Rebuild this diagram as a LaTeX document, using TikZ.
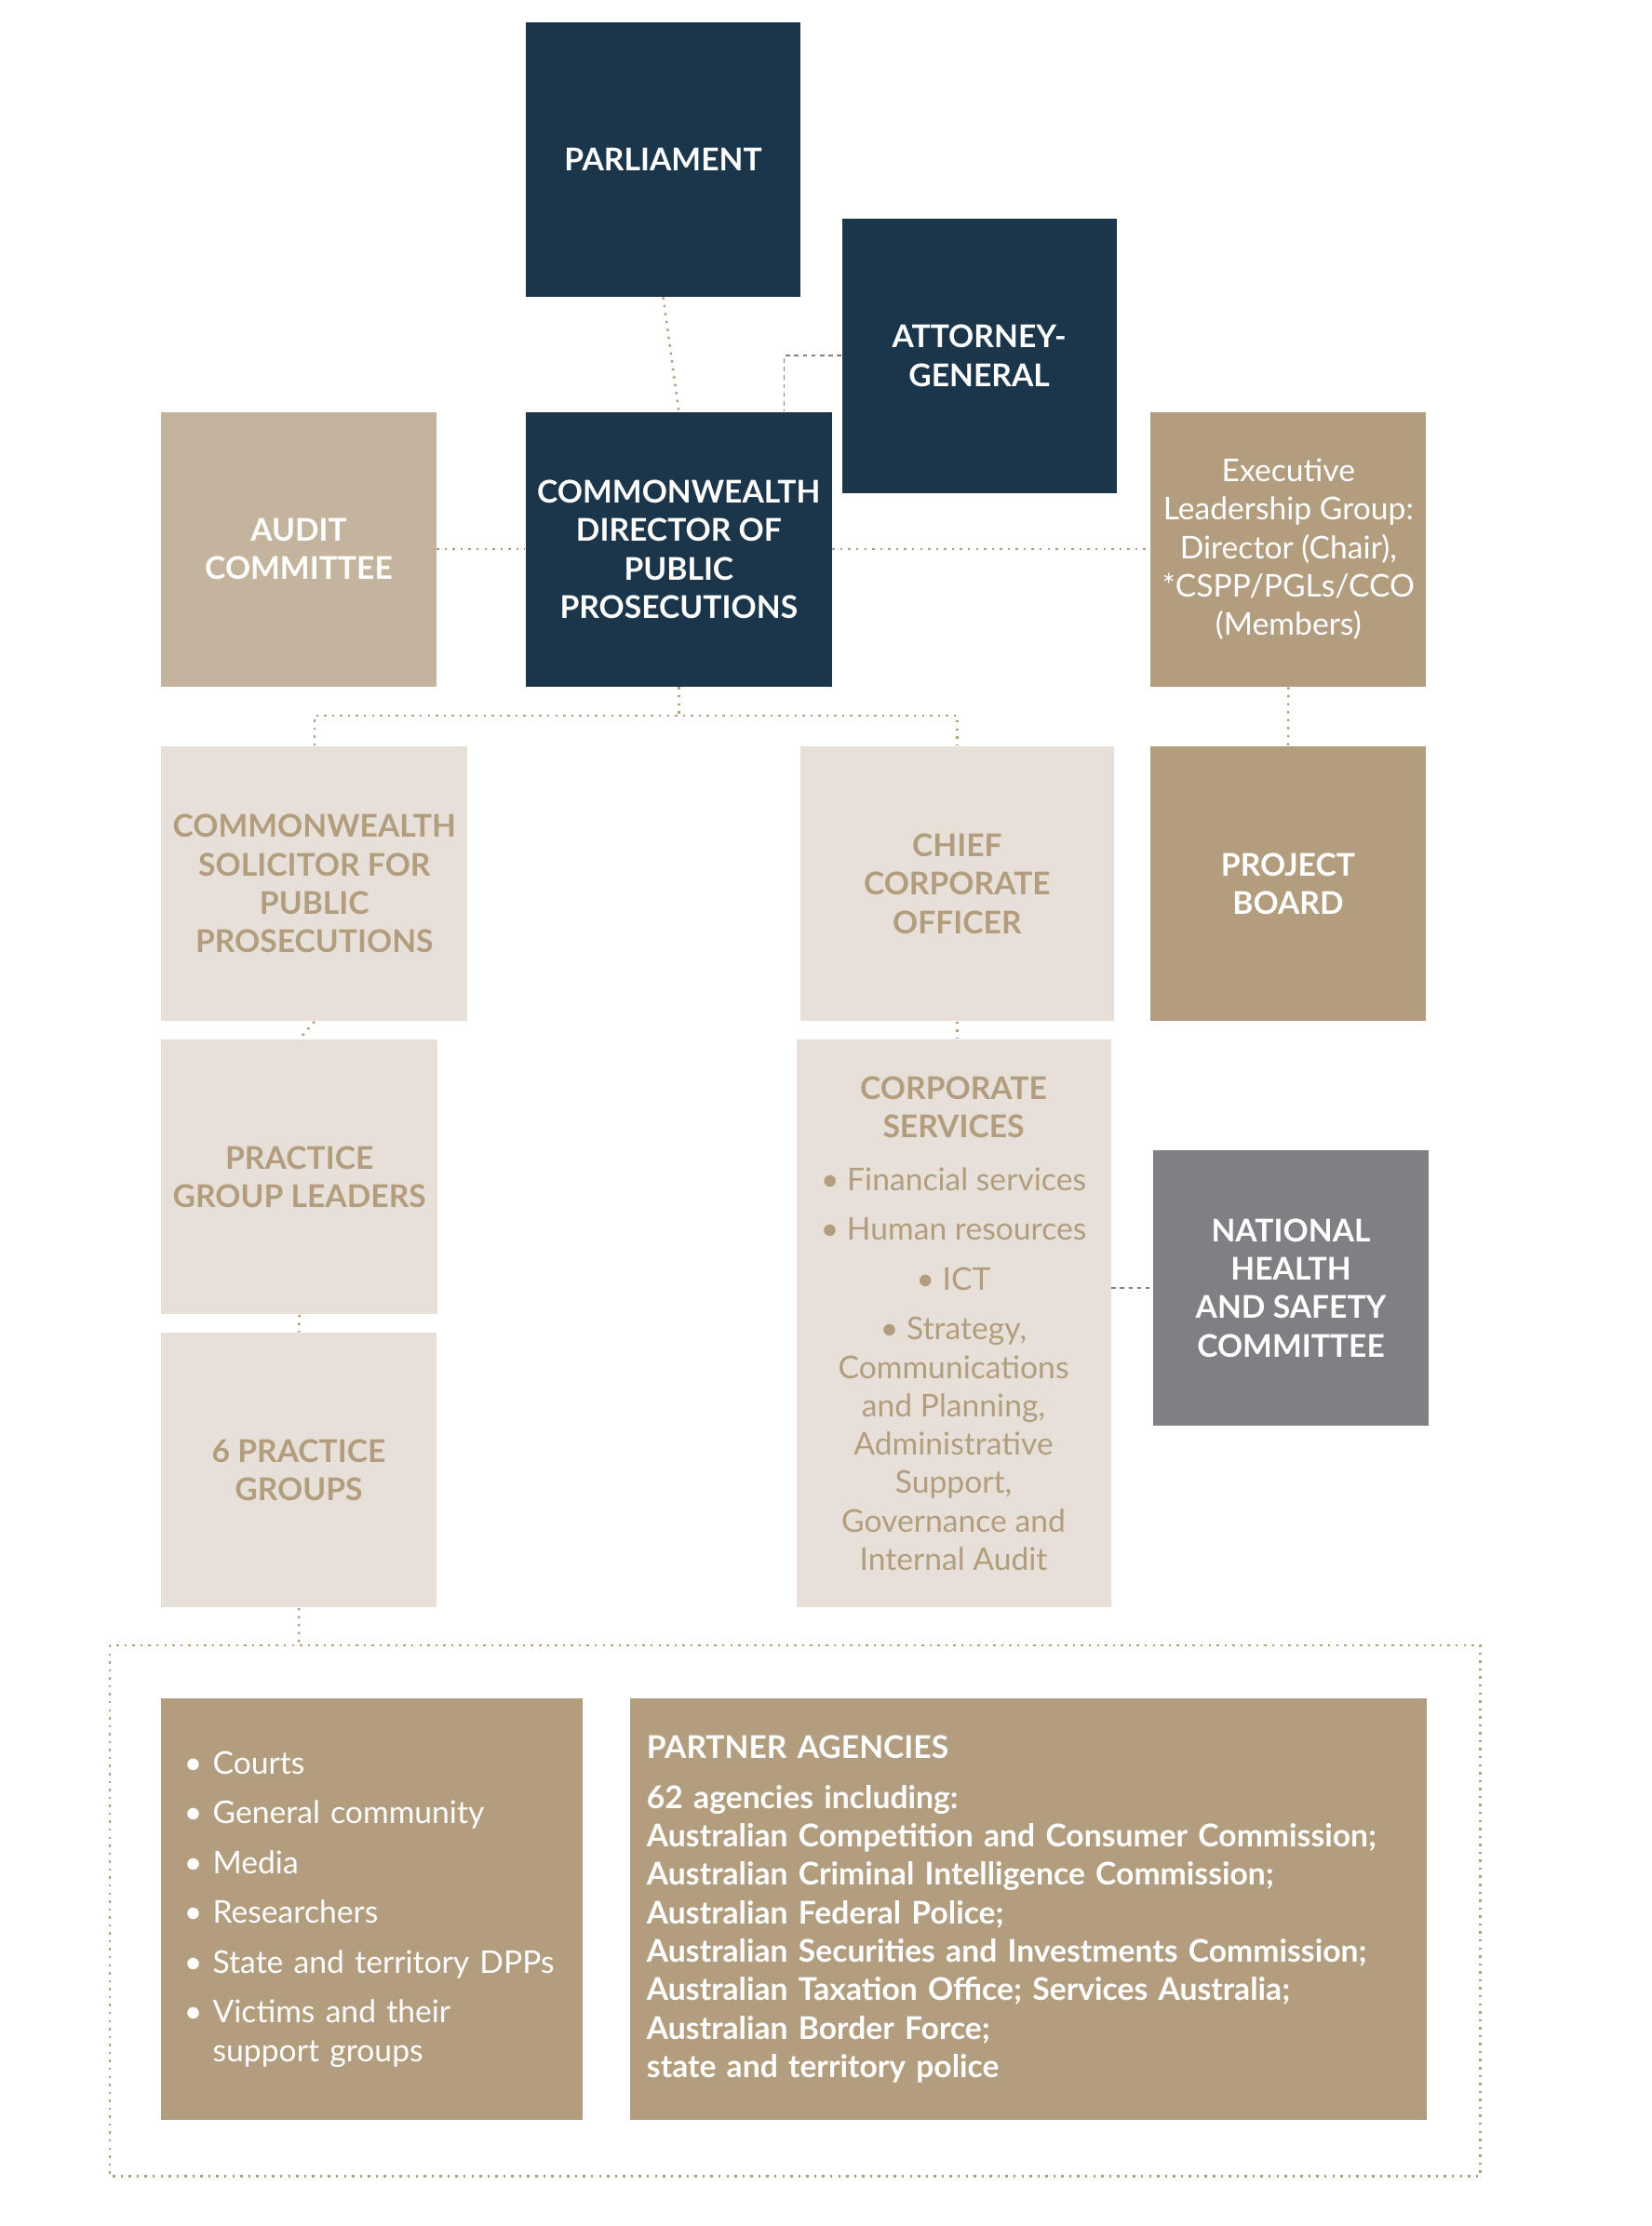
\documentclass[tikz,border=0pt]{standalone}
\usepackage{fontspec}
\setmainfont{Lato}
\usetikzlibrary{positioning}
\definecolor{navy}{RGB}{27, 54, 75}
\definecolor{sand}{RGB}{196, 179, 157}
\definecolor{tan}{RGB}{179, 157, 127}
\definecolor{linen}{RGB}{231, 224, 216}
\definecolor{slate}{RGB}{128, 128, 132}
\tikzset{
  box/.style={anchor=north west, inner sep=4pt, align=center, font=\fontsize{11}{13.5}\selectfont},
  navybox/.style={box, fill=navy, text=white, minimum width=96.5pt, minimum height=96.5pt},
  tanbox/.style={box, fill=tan, text=white, minimum width=96.5pt, minimum height=96.5pt},
  lightbox/.style={box, fill=linen, text=tan, minimum width=96.5pt, minimum height=96.5pt},
  link/.style={draw=tan, line width=0.8pt, dotted},
  glink/.style={draw=slate, line width=0.6pt, dashed, dash pattern=on 1.5pt off 1.5pt},
}
\begin{document}
\begin{tikzpicture}[x=0.5pt, y=-0.5pt]
\useasboundingbox (0,0) rectangle (1160,1564);
% top row
\node[navybox] (parl) at (369,15) {\bfseries PARLIAMENT};
\node[navybox] (ag) at (591,153) {\bfseries ATTORNEY-\\\bfseries GENERAL};
\node[tanbox, fill=sand] (audit) at (113,289) {\bfseries AUDIT\\\bfseries COMMITTEE};
\node[navybox] (cdpp) at (369,289) {\bfseries COMMONWEALTH\\\bfseries DIRECTOR OF\\\bfseries PUBLIC\\\bfseries PROSECUTIONS};
\node[tanbox] (elg) at (808,289) {Executive\\Leadership Group:\\Director (Chair),\\*CSPP/PGLs/CCO\\(Members)};
% middle rows
\node[lightbox] (cspp) at (113,524) {\bfseries COMMONWEALTH\\\bfseries SOLICITOR FOR\\\bfseries PUBLIC\\\bfseries PROSECUTIONS};
\node[lightbox, minimum width=110pt] (cco) at (562,524) {\bfseries CHIEF\\\bfseries CORPORATE\\\bfseries OFFICER};
\node[tanbox] (board) at (808,524) {\bfseries PROJECT\\\bfseries BOARD};
\node[lightbox] (pgl) at (113,730) {\bfseries PRACTICE\\\bfseries GROUP LEADERS};
\node[lightbox, minimum width=110.5pt, minimum height=199.5pt] (corp) at (559,730)
  {\bfseries CORPORATE\\\bfseries SERVICES\\[5pt]
   • Financial services\\[4pt] • Human resources\\[4pt] • ICT\\[4pt]
   • Strategy,\\Communications\\and Planning,\\Administrative\\Support,\\Governance and\\Internal Audit};
\node[tanbox, fill=slate] (nhsc) at (810,808) {\bfseries NATIONAL\\\bfseries HEALTH\\\bfseries AND SAFETY\\\bfseries COMMITTEE};
\node[lightbox] (groups) at (113,936) {\bfseries 6 PRACTICE\\\bfseries GROUPS};
% stakeholders
\draw[link] (77,1156) rectangle (1040,1529);
\coordinate (outer) at (210,1156);
\node[tanbox, align=left, minimum width=148pt, minimum height=148pt, text width=132pt] (stake) at (113,1193)
  {• Courts\\[4pt] • General community\\[4pt] • Media\\[4pt] • Researchers\\[4pt]
   • State and territory DPPs\\[4pt] • Victims and their\\\phantom{• }support groups};
\node[tanbox, align=left, minimum width=280pt, minimum height=148pt, text width=268pt] (partner) at (442,1193)
  {\bfseries PARTNER AGENCIES\\[4pt]
   62 agencies including:\\
   Australian Competition and Consumer Commission;\\
   Australian Criminal Intelligence Commission;\\
   Australian Federal Police;\\
   Australian Securities and Investments Commission;\\
   Australian Taxation Office; Services Australia;\\
   Australian Border Force;\\
   state and territory police};
% connectors
\draw[link] (parl.south) -- (cdpp.north);
\draw[glink] (ag.west) -| ([xshift=37pt]cdpp.north);
\draw[link] (audit.east) -- (cdpp.west);
\draw[link] (cdpp.east) -- (elg.west);
\draw[link] (elg.south) -- (board.north);
\draw[link] (cdpp.south) -- ++(0,20) coordinate (split);
\draw[link] (cspp.north) |- (split) -| (cco.north);
\draw[link] (cspp.south) -- (pgl.north);
\draw[link] (pgl.south) -- (groups.north);
\draw[link] (cco.south) -- (corp.north -| cco.south);
\draw[glink] (corp.east |- nhsc.west) -- (nhsc.west);
\draw[link] (groups.south) -- (outer);
\end{tikzpicture}
\end{document}
